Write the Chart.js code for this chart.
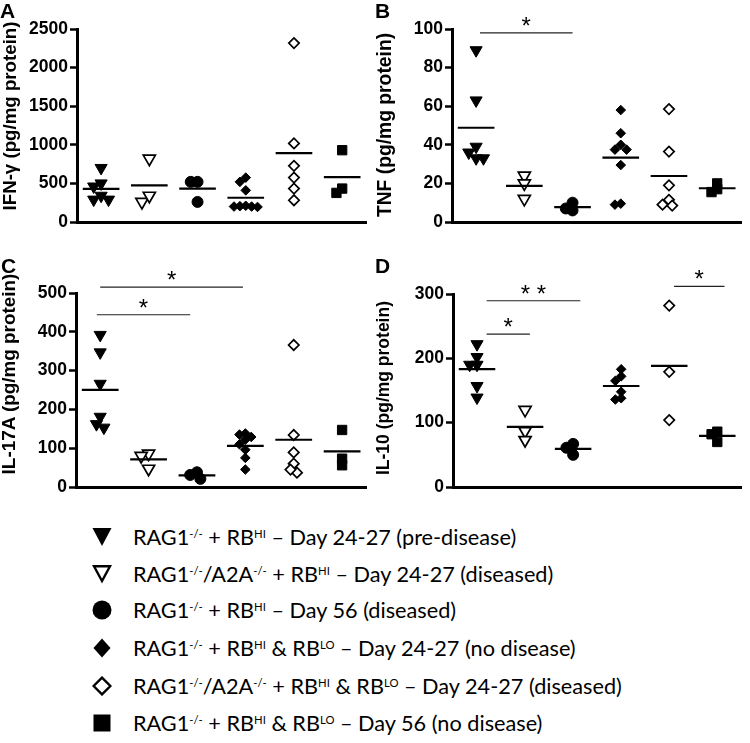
<!DOCTYPE html>
<html><head><meta charset="utf-8">
<script src="https://cdn.jsdelivr.net/npm/chart.js@4.4.0/dist/chart.umd.min.js"></script>
<style>
html,body{margin:0;padding:0;background:#fff;}
body{width:750px;height:743px;position:relative;overflow:hidden;font-family:"Liberation Sans",Arial,sans-serif;}
.pnl{position:absolute;}
.pnl canvas{display:block;}
.letter{position:absolute;font:bold 21px/21px "Liberation Sans",Arial,sans-serif;color:#000;}
.ytitle{position:absolute;font-weight:bold;white-space:nowrap;transform:translate(-50%,-50%) rotate(-90deg);color:#000;line-height:1;font-family:"Liberation Sans",Arial,sans-serif;}
.leg-row{position:absolute;left:133px;font-family:Lato,"Open Sans",sans-serif;font-size:21.7px;line-height:26px;white-space:nowrap;color:#000;}
.leg-row sup{font-size:0.52em;vertical-align:7px;line-height:0;}
.leg-mk{position:absolute;width:20px;height:20px;}
</style></head>
<body>
<div class="pnl" style="left:0;top:0"><canvas id="cA" width="375" height="240"></canvas></div>
<div class="pnl" style="left:375px;top:0"><canvas id="cB" width="375" height="240"></canvas></div>
<div class="pnl" style="left:0;top:240px"><canvas id="cC" width="375" height="260"></canvas></div>
<div class="pnl" style="left:375px;top:240px"><canvas id="cD" width="375" height="260"></canvas></div>

<div class="letter" style="left:0;top:0">A</div>
<div class="letter" style="left:375px;top:0">B</div>
<div class="letter" style="left:1px;top:255px">C</div>
<div class="letter" style="left:375px;top:255px">D</div>

<div class="ytitle" style="left:10px;top:115.5px;font-size:18.7px">IFN-γ (pg/mg protein)</div>
<div class="ytitle" style="left:385px;top:125px;font-size:19.3px">TNF (pg/mg protein)</div>
<div class="ytitle" style="left:9px;top:374px;font-size:18.9px">IL-17A (pg/mg protein)</div>
<div class="ytitle" style="left:384px;top:388px;font-size:17.5px">IL-10 (pg/mg protein)</div>

<div id="legend"></div>

<script>
// ---------- DATA ----------
const groupIds = [1, 2, 3, 4, 5, 6];
const legendLabels = [
  'RAG1<sup>-/-</sup> + RB<sup>HI</sup> – Day 24-27 (pre-disease)',
  'RAG1<sup>-/-</sup>/A2A<sup>-/-</sup> + RB<sup>HI</sup> – Day 24-27 (diseased)',
  'RAG1<sup>-/-</sup> + RB<sup>HI</sup> – Day 56 (diseased)',
  'RAG1<sup>-/-</sup> + RB<sup>HI</sup> &amp; RB<sup>LO</sup> – Day 24-27 (no disease)',
  'RAG1<sup>-/-</sup>/A2A<sup>-/-</sup> + RB<sup>HI</sup> &amp; RB<sup>LO</sup> – Day 24-27 (diseased)',
  'RAG1<sup>-/-</sup> + RB<sup>HI</sup> &amp; RB<sup>LO</sup> – Day 56 (no disease)'
];

const ifngTicks = [0, 500, 1000, 1500, 2000, 2500];
const ifngValues = [
  [700, 340, 290, 290, 460, 500],
  [820, 260, 340],
  [520, 520, 260],
  [520, 575, 410, 200, 210, 200, 205, 195],
  [2318, 1018, 728, 282, 433, 576],
  [930, 377, 433]
];
const ifngSig = [];

const tnfTicks = [0, 20, 40, 60, 80, 100];
const tnfValues = [
  [89, 63, 36, 33, 33, 39],
  [24, 20, 12],
  [10, 6, 7],
  [58, 46, 37.5, 37.5, 40, 29.5, 9, 9.5],
  [58.5, 36.5, 19, 11.5, 8.5, 9],
  [20, 15.5, 17]
];
const tnfSig = [{from: 1.08, to: 3.0, y: 98, label: '*'}];

const il17Ticks = [0, 100, 200, 300, 400, 500];
const il17Values = [
  [392, 347, 266, 181, 153, 162],
  [86, 80, 47],
  [38, 21, 31],
  [135, 129, 138, 122, 110, 96, 75, 45],
  [366, 134, 89, 60, 37, 45],
  [147, 73, 56]
];
const il17Sig = [
  {from: 1.0, to: 3.95, y: 515, label: '*'},
  {from: 0.93, to: 2.86, y: 444, label: '*'}
];

const il10Ticks = [0, 100, 200, 300];
const il10Values = [
  [222, 202, 190, 190, 157, 139],
  [120, 87, 73],
  [67, 61, 50],
  [183, 172, 165, 148, 136, 138],
  [282, 179, 104],
  [86, 82, 70]
];
const il10Sig = [
  {from: 1.2, to: 3.15, y: 289.5, label: '* *'},
  {from: 1.2, to: 2.1, y: 237.5, label: '*'},
  {from: 5.1, to: 6.15, y: 312, label: '*'}
];

// ---------- STYLES ----------
const markerStyles = [
  {pointStyle: 'triangle', rotation: 180, radius: 7,   fill: '#000', bw: 1,   w: 12},
  {pointStyle: 'triangle', rotation: 180, radius: 7,   fill: '#fff', bw: 1.7, w: 12},
  {pointStyle: 'circle',   rotation: 0,   radius: 5.5, fill: '#000', bw: 1,   w: 11},
  {pointStyle: 'rectRot',  rotation: 0,   radius: 4.8, fill: '#000', bw: 1,   w: 9.5},
  {pointStyle: 'rectRot',  rotation: 0,   radius: 5.2, fill: '#fff', bw: 1.7, w: 10.5},
  {pointStyle: 'rect',     rotation: 0,   radius: 6.6, fill: '#000', bw: 1,   w: 9.3}
];
const MEAN_HALF = 0.38;
const FONT = '"Liberation Sans", Arial, sans-serif';

// deterministic beeswarm: spreads overlapping points sideways
function swarm(vals, yPx, xPx, w) {
  const D = 0.62 * w, step = D / 2;
  const order = vals.map((v, i) => i).sort((a, b) => vals[b] - vals[a]);
  const placed = [], out = new Array(vals.length).fill(0);
  order.forEach(i => {
    const py = vals[i] * yPx;
    for (let k = 0; k < 60; k++) {
      const off = k === 0 ? 0 : (k % 2 ? -1 : 1) * Math.ceil(k / 2) * step;
      if (placed.every(p => Math.hypot(p.x - off, p.y - py) >= D)) {
        placed.push({x: off, y: py});
        out[i] = off / xPx;
        break;
      }
    }
  });
  return out;
}

const starPlugin = {
  id: 'sigStars',
  afterDatasetsDraw(chart, args, opts) {
    const {ctx, scales} = chart;
    (opts.bars || []).forEach(b => {
      const px = scales.x.getPixelForValue((b.from + b.to) / 2);
      const py = scales.y.getPixelForValue(b.y);
      ctx.save();
      ctx.font = '24px ' + FONT;
      ctx.textAlign = 'center';
      ctx.textBaseline = 'alphabetic';
      ctx.fillStyle = '#000';
      ctx.fillText(b.label, px, py + 1);
      ctx.restore();
    });
  }
};

function makePanel(id, values, ticks, sig, box) {
  const canvas = document.getElementById(id);
  const plotW = canvas.width - box.left - box.right;
  const plotH = canvas.height - box.top - box.bottom;
  const yMin = ticks[0], yMax = ticks[ticks.length - 1];
  const yPx = plotH / (yMax - yMin), xPx = plotW / groupIds.length;
  const datasets = [];
  values.forEach((vals, g) => {
    const m = vals.reduce((a, b) => a + b, 0) / vals.length;
    datasets.push({
      showLine: true, data: [{x: groupIds[g] - MEAN_HALF, y: m}, {x: groupIds[g] + MEAN_HALF, y: m}],
      borderColor: '#000', borderWidth: 2.2, pointRadius: 0, clip: false
    });
  });
  sig.forEach(b => {
    datasets.push({
      showLine: true, data: [{x: b.from, y: b.y}, {x: b.to, y: b.y}],
      borderColor: '#222', borderWidth: 1.2, pointRadius: 0, clip: false
    });
  });
  values.forEach((vals, g) => {
    const st = markerStyles[g];
    const offs = swarm(vals, yPx, xPx, st.w);
    datasets.push({
      data: vals.map((v, i) => ({x: groupIds[g] + offs[i], y: v})),
      pointStyle: st.pointStyle, rotation: st.rotation, pointRotation: st.rotation,
      pointRadius: st.radius, backgroundColor: st.fill, borderColor: '#000',
      borderWidth: st.bw, clip: false
    });
  });
  new Chart(canvas, {
    type: 'scatter',
    data: {datasets},
    options: {
      responsive: false, animation: false, events: [],
      layout: {padding: {left: 0, top: box.top, right: box.right, bottom: box.bottom}},
      plugins: {legend: {display: false}, tooltip: {enabled: false}, sigStars: {bars: sig}},
      scales: {
        x: {
          type: 'linear', min: 0.5, max: groupIds.length + 0.5,
          ticks: {display: false}, grid: {display: false},
          border: {display: true, color: '#000', width: 3},
          afterFit(s) { s.height = 0; }
        },
        y: {
          type: 'linear', min: yMin, max: yMax,
          ticks: {stepSize: ticks[1] - ticks[0], color: '#000', padding: 2,
                  font: {family: FONT, size: 17.5, weight: 'bold'}, callback: v => String(v)},
          grid: {display: true, drawOnChartArea: false, drawTicks: true, tickLength: 7,
                 tickWidth: 2.5, tickColor: '#000', color: '#000'},
          border: {display: true, color: '#000', width: 3},
          afterFit(s) { s.width = box.left; }
        }
      }
    },
    plugins: [starPlugin]
  });
}

makePanel('cA', ifngValues, ifngTicks, ifngSig, {left: 77, right: 8, top: 29, bottom: 18});
makePanel('cB', tnfValues, tnfTicks, tnfSig, {left: 77, right: 5, top: 29, bottom: 18});
makePanel('cC', il17Values, il17Ticks, il17Sig, {left: 76, right: 8, top: 53, bottom: 13});
makePanel('cD', il10Values, il10Ticks, il10Sig, {left: 78, right: 5, top: 54, bottom: 13});

// ---------- LEGEND ----------
const legendShapes = [
  '<polygon points="0.5,1 19.5,1 10,19" fill="#000"/>',
  '<polygon points="2,2.2 18,2.2 10,17" fill="#fff" stroke="#000" stroke-width="2.4" stroke-linejoin="miter"/>',
  '<circle cx="10" cy="10" r="9.5" fill="#000"/>',
  '<polygon points="10,0.5 18.5,10 10,19.5 1.5,10" fill="#000"/>',
  '<polygon points="10,1.6 18.4,10 10,18.4 1.6,10" fill="#fff" stroke="#000" stroke-width="2.4"/>',
  '<rect x="1.5" y="1.5" width="17" height="17" fill="#000"/>'
];
const legendRowCenters = [537, 574, 610, 648, 686, 723];
const legendEl = document.getElementById('legend');
legendLabels.forEach((lab, i) => {
  const c = legendRowCenters[i];
  const mk = document.createElement('div');
  mk.className = 'leg-mk';
  mk.style.left = '92px'; mk.style.top = (c - 10) + 'px';
  mk.innerHTML = '<svg width="20" height="20" viewBox="0 0 20 20">' + legendShapes[i] + '</svg>';
  legendEl.appendChild(mk);
  const row = document.createElement('div');
  row.className = 'leg-row';
  row.style.top = (c - 13.5) + 'px';
  row.innerHTML = lab;
  legendEl.appendChild(row);
});
</script>
</body></html>
